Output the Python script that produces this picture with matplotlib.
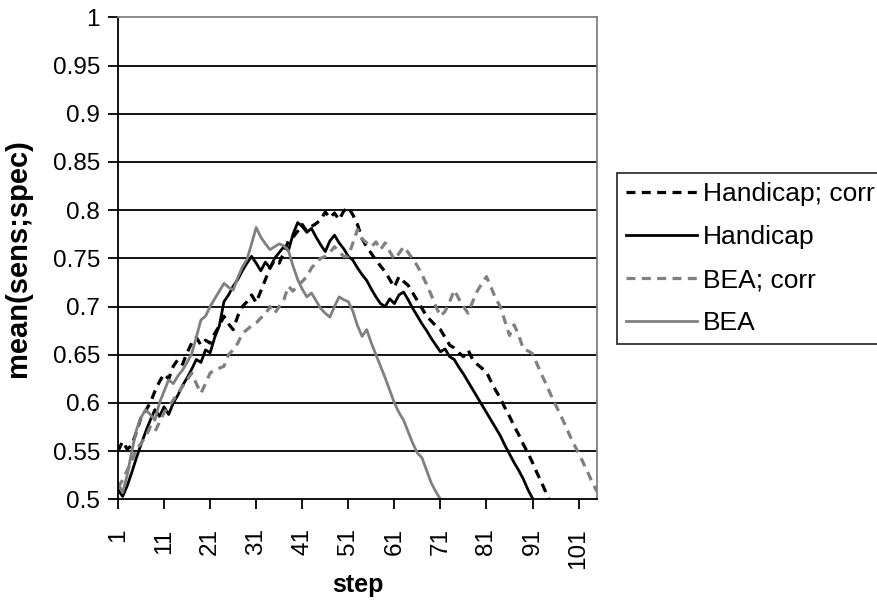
"""Recreate the mean(sens;spec) versus step line chart (Excel style)."""

import matplotlib
matplotlib.use('Agg')
import matplotlib.pyplot as plt
from matplotlib.ticker import FixedLocator

plt.rcParams['font.family'] = ['Liberation Sans', 'DejaVu Sans']

# values, one per step starting at step 1
handicap_corr = [
    0.550, 0.560, 0.552, 0.556, 0.570, 0.585, 0.592, 0.600, 0.612, 0.622,
    0.630, 0.625, 0.638, 0.645, 0.640, 0.652, 0.662, 0.668, 0.660, 0.665,
    0.662, 0.672, 0.680, 0.690, 0.682, 0.676, 0.690, 0.700, 0.705, 0.712,
    0.704, 0.716, 0.728, 0.740, 0.748, 0.745, 0.756, 0.768, 0.772, 0.778,
    0.785, 0.778, 0.783, 0.786, 0.790, 0.798, 0.792, 0.797, 0.790, 0.799,
    0.803, 0.795, 0.785, 0.770, 0.762, 0.755, 0.748, 0.742, 0.736, 0.728,
    0.720, 0.731, 0.726, 0.722, 0.714, 0.706, 0.698, 0.690, 0.685, 0.680,
    0.676, 0.668, 0.660, 0.657, 0.652, 0.648, 0.655, 0.645, 0.640, 0.636,
    0.632, 0.622, 0.613, 0.605, 0.595, 0.586, 0.576, 0.567, 0.557, 0.548,
    0.538, 0.527, 0.517, 0.506, 0.495,
]

handicap = [
    0.510, 0.503, 0.514, 0.528, 0.543, 0.557, 0.570, 0.582, 0.593, 0.586,
    0.596, 0.588, 0.600, 0.608, 0.618, 0.626, 0.635, 0.645, 0.642, 0.655,
    0.652, 0.668, 0.680, 0.705, 0.712, 0.721, 0.728, 0.737, 0.745, 0.752,
    0.745, 0.737, 0.746, 0.740, 0.750, 0.756, 0.762, 0.758, 0.775, 0.787,
    0.783, 0.777, 0.781, 0.772, 0.764, 0.757, 0.768, 0.774, 0.766, 0.760,
    0.752, 0.748, 0.740, 0.733, 0.727, 0.718, 0.710, 0.703, 0.700, 0.708,
    0.703, 0.712, 0.715, 0.707, 0.698, 0.690, 0.682, 0.675, 0.667, 0.660,
    0.653, 0.656, 0.648, 0.645, 0.637, 0.630, 0.622, 0.614, 0.606, 0.598,
    0.590, 0.582, 0.574, 0.566, 0.556, 0.547, 0.538, 0.530, 0.521, 0.510,
    0.501, 0.490,
]

bea_corr = [
    0.512, 0.520, 0.530, 0.540, 0.552, 0.558, 0.565, 0.575, 0.570, 0.580,
    0.590, 0.596, 0.603, 0.610, 0.617, 0.624, 0.631, 0.620, 0.610, 0.620,
    0.631, 0.634, 0.636, 0.638, 0.650, 0.655, 0.662, 0.672, 0.676, 0.680,
    0.683, 0.688, 0.692, 0.700, 0.693, 0.700, 0.707, 0.721, 0.716, 0.722,
    0.726, 0.731, 0.740, 0.745, 0.750, 0.752, 0.756, 0.762, 0.757, 0.752,
    0.752, 0.766, 0.780, 0.770, 0.766, 0.762, 0.767, 0.759, 0.766, 0.757,
    0.749, 0.755, 0.762, 0.756, 0.749, 0.742, 0.733, 0.723, 0.712, 0.700,
    0.690, 0.695, 0.705, 0.717, 0.708, 0.700, 0.693, 0.705, 0.716, 0.724,
    0.731, 0.720, 0.708, 0.700, 0.685, 0.670, 0.681, 0.670, 0.656, 0.654,
    0.651, 0.640, 0.629, 0.619, 0.608, 0.598, 0.588, 0.578, 0.567, 0.557,
    0.548, 0.538, 0.528, 0.517, 0.508,
]

bea = [
    0.517, 0.507, 0.525, 0.550, 0.572, 0.585, 0.593, 0.588, 0.582, 0.600,
    0.612, 0.624, 0.620, 0.628, 0.634, 0.642, 0.651, 0.668, 0.686, 0.690,
    0.700, 0.708, 0.716, 0.724, 0.720, 0.717, 0.730, 0.741, 0.749, 0.765,
    0.782, 0.772, 0.765, 0.759, 0.762, 0.765, 0.763, 0.758, 0.742, 0.728,
    0.718, 0.710, 0.714, 0.706, 0.698, 0.693, 0.689, 0.700, 0.710, 0.707,
    0.705, 0.695, 0.680, 0.669, 0.676, 0.662, 0.650, 0.638, 0.626, 0.613,
    0.600, 0.590, 0.582, 0.570, 0.558, 0.548, 0.543, 0.530, 0.517, 0.508,
    0.500, 0.490,
]

series_labels = ['Handicap; corr', 'Handicap', 'BEA; corr', 'BEA']
n_steps = 105
step_ticks = list(range(1, 102, 10))
y_ticks = [0.5, 0.55, 0.6, 0.65, 0.7, 0.75, 0.8, 0.85, 0.9, 0.95, 1.0]
y_tick_labels = ['0.5', '0.55', '0.6', '0.65', '0.7', '0.75', '0.8',
                 '0.85', '0.9', '0.95', '1']

GRAY = '#808080'
FS = 17.5


def plot_series(ax):
    """Draw the four series as Excel-like lines onto ``ax``."""
    data = [handicap_corr, handicap, bea_corr, bea]
    colors = ['black', 'black', GRAY, GRAY]
    dashed = [True, False, True, False]
    for values, label, color, dash in zip(data, series_labels, colors, dashed):
        steps = list(range(1, len(values) + 1))
        if dash:
            ax.plot(steps, values, color=color, linewidth=2.3, label=label,
                    linestyle=(0, (2.8, 2.0)))
        else:
            ax.plot(steps, values, color=color, linewidth=2.0, label=label)


def style_axes(ax):
    """Axis limits, ticks, grid and spines like the original chart."""
    ax.set_xlim(1, n_steps)
    ax.set_ylim(0.5, 1.0)

    ax.xaxis.set_major_locator(FixedLocator(step_ticks))
    ax.set_xticklabels([str(s) for s in step_ticks], rotation=90,
                       fontsize=FS, va='top')
    ax.set_yticks(y_ticks)
    ax.set_yticklabels(y_tick_labels, fontsize=FS)

    ax.tick_params(axis='x', direction='out', length=7, width=1.3, pad=14)
    ax.tick_params(axis='y', direction='out', length=7, width=1.3, pad=6)

    for y in y_ticks[1:-1]:
        ax.axhline(y, color='black', linewidth=1.3, zorder=0.5)

    for side in ['left', 'bottom']:
        ax.spines[side].set_color('black')
        ax.spines[side].set_linewidth(1.3)
    for side in ['top', 'right']:
        ax.spines[side].set_color(GRAY)
        ax.spines[side].set_linewidth(1.3)

    ax.set_xlabel('step', fontsize=FS + 0.5, fontweight='bold', va='center')
    ax.set_ylabel('mean(sens;spec)', fontsize=21, fontweight='bold',
                  va='center')
    ax.xaxis.set_label_coords(0.5, -0.178)
    ax.yaxis.set_label_coords(-0.209, 0.5)


def main():
    fig = plt.figure(figsize=(8.78, 6.05), dpi=100)
    ax = fig.add_axes([0.1344, 0.1747, 0.5456, 0.7967])

    plot_series(ax)
    style_axes(ax)

    leg = fig.legend(loc='upper left', bbox_to_anchor=(617 / 878, 1 - 173 / 605),
                     fontsize=19, frameon=True, fancybox=False,
                     handlelength=2.7, handletextpad=0.2, labelspacing=0.72,
                     borderpad=0.35, borderaxespad=0)
    leg.get_frame().set_edgecolor('black')
    leg.get_frame().set_linewidth(1.3)

    fig.savefig('out.png', dpi=100)


if __name__ == '__main__':
    main()
